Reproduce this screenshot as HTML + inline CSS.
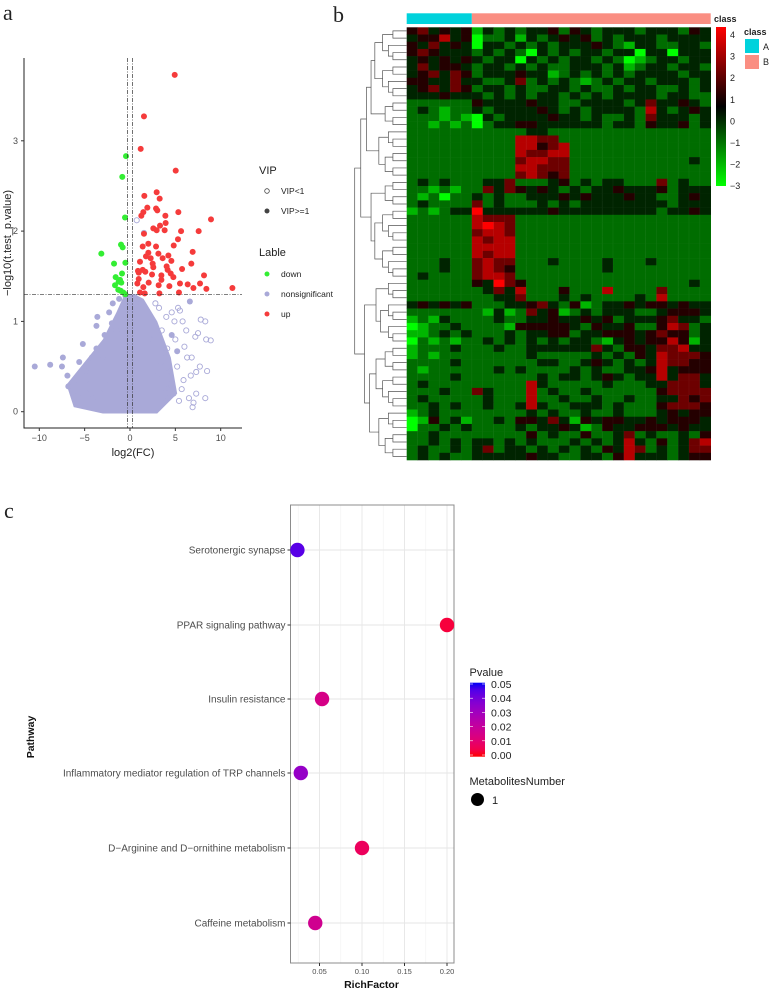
<!DOCTYPE html>
<html><head><meta charset="utf-8"><style>
body{margin:0;background:#fff}
svg{display:block;font-family:"Liberation Sans",sans-serif}
</style></head><body>
<svg id="fig" width="770" height="991" viewBox="0 0 770 991">
<rect width="770" height="991" fill="#fff"/>
<g id="volcano"></g>
<g id="heatmap"></g>
<g id="bubble"></g>
</svg>
<script>
// ---------- Volcano data ----------
const upX=[4.93,1.54,1.18,5.04,1.58,2.94,3.27,1.91,2.87,1.47,3.01,1.25,3.90,5.33,7.57,8.93,5.63,3.31,2.57,3.93,2.94,1.54,3.82,5.29,4.82,6.91,6.76,2.02,2.87,1.40,3.13,2.02,1.10,2.28,3.60,4.56,2.50,4.15,5.74,8.16,7.72,8.42,6.99,6.36,5.51,11.29,3.46,2.43,1.69,0.96,0.96,1.47,1.10,1.62,3.24,5.40,4.49,3.46,4.78,0.88,0.81,2.06,3.16,4.34,1.40,2.57,4.23,1.76,4.04];
const upY=[3.73,3.27,2.91,2.67,2.39,2.43,2.36,2.26,2.25,2.21,2.23,2.17,2.17,2.21,2.0,2.13,2.0,2.06,2.03,2.09,2.01,1.97,2.01,1.91,1.84,1.77,1.64,1.86,1.83,1.83,1.75,1.76,1.66,1.70,1.70,1.67,1.64,1.57,1.58,1.51,1.42,1.36,1.37,1.41,1.42,1.37,1.51,1.52,1.55,1.54,1.47,1.38,1.32,1.31,1.31,1.32,1.53,1.46,1.49,1.56,1.42,1.43,1.40,1.39,1.57,1.60,1.73,1.72,1.61];
const downX=[-0.44,-0.85,-0.55,-3.16,-0.99,-0.81,-1.76,-0.51,-0.88,-1.58,-1.10,-1.25,-0.96,-1.65,-1.29,-1.03,-0.74,-0.51];
const downY=[2.83,2.60,2.15,1.75,1.85,1.82,1.64,1.65,1.53,1.49,1.46,1.44,1.43,1.40,1.35,1.34,1.32,1.30];
const nsFillX=[-10.5,-8.8,-7.4,-7.5,-6.9,-6.1,-5.8,-5.6,-4.9,-4.2,-3.7,-3.7,-2.8,-4.5,-2.3,-1.9,-3.2,-2.2,6.6,5.2,4.6,-6.8,-4.1,-1.2,-0.5,0.5,1.2,-2.6,-1.5,-3.6,-5.2,-2.0,-3.0,-4.8];
const nsFillY=[0.5,0.52,0.6,0.5,0.4,0.35,0.18,0.55,0.45,0.6,0.7,0.95,0.85,0.3,1.1,1.2,0.2,0.3,1.22,0.67,0.85,0.28,0.15,1.25,1.28,1.27,1.2,0.55,0.9,1.05,0.75,0.98,0.62,0.2];
const nsHollowX=[8.3,7.8,5.8,5.3,5.5,7.2,8.4,8.9,7.5,6.0,5.0,6.3,7.7,8.5,7.3,6.7,5.7,6.5,7.3,8.3,5.4,6.9,7.0,4.2,4.8,3.5,4.0,3.7,4.4,3.2,2.8,0.74,1.54,4.5,5.2,3.0,2.5,3.9,6.2,4.9,4.1,3.4,5.9,6.8,4.6,3.6];
const nsHollowY=[1.0,1.02,1.0,1.15,1.12,0.83,0.8,0.79,0.87,0.72,0.8,0.6,0.5,0.45,0.44,0.4,0.25,0.15,0.2,0.15,0.12,0.05,0.1,0.15,0.2,0.9,1.05,0.65,0.45,1.15,1.2,2.12,1.98,0.3,0.5,0.4,0.8,0.25,0.9,1.0,0.7,0.55,0.35,0.6,1.1,0.1];
const cloudX=[-0.6,-1.5,-3,-5,-7,-6.2,-3,3,5.2,4.5,3,1.5,0.5];
const cloudY=[1.3,1.1,0.8,0.55,0.3,0.05,-0.02,-0.02,0.2,0.6,1.0,1.25,1.3];
const vXTicks=[-10,-5,0,5,10];
const vYTicks=[0,1,2,3];

// ---------- Heatmap data (digit d -> value d-3) ----------
const heatRows=[
"4534341323233424323332333243","3446340223132343423233323333","4353430332323233343213322332","4543332323203232332330330333",
"3434343233032323323201233233","3534432332323223332312332332","3453542333433123232323333233","4433533223523232123233233323",
"3453542332322332322323322323","3334333232323323232333323322","2222224333343322333323533432","2321223233334323233332632343",
"2221210323333433232232533323","2212120233443333332332433423","2222222222233222222222222222","2222222222665522222222222222",
"2222222222664562222222222222","2222222222655662222222222222","2222222222566552222222222232","2222222222665552222222222222",
"2222222222565452222222222222","2323222335222342323322252322","2212122535434323233433342333","2120223232233343433343322343",
"2322225232223232333333332333","1212337333333433333333323343","2222226555222222222222222222","2222226765222222222222222222",
"2222225665222222222222222222","2222226566222222222222222222","2222226666222222222222222222","2222226566222222222222222222",
"2223225655222322223222322222","2223225654222222223222222222","2322225665222222222222222222","2222224375422222222222222232",
"2222222353622242226222252222","2222222233522232322223262222","3434342223345324123343443433","2222222131253412323332234443",
"1213222232233433434233345332","0122322221444443243342246523","1123232223233442334443454423","0212122323232323321343446413",
"1222322232233333353244355633","1212222222232222232324365554","2222322222223322343232365544","2122222232322223232233463444",
"2222322222223233234323363553","2322222222263222223222335553","2223225322262322322222245555","2322222322262232232232233545",
"2232322322363223332322245554","1232222222232322322322234344","0142312232443531434433434443","0223232222323343124334443433",
"2232222222242322422352322324","2232323323232223232363242356","2322323523323232324365232355","2323223333343322332463332344"];
const classA=6, nCols=28;
const cbTicks=[4,3,2,1,0,-1,-2,-3];

// ---------- Bubble data ----------
const pathways=["Serotonergic synapse","PPAR signaling pathway","Insulin resistance","Inflammatory mediator regulation of TRP channels","D\u2212Arginine and D\u2212ornithine metabolism","Caffeine metabolism"];
const richFactor=[0.024,0.2,0.053,0.028,0.1,0.045];
const pvals=[0.044,0.003,0.015,0.033,0.007,0.017];
const rfTicks=[0.05,0.10,0.15,0.20];
const pTicks=[0.05,0.04,0.03,0.02,0.01,0.00];

const NS="http://www.w3.org/2000/svg";
function el(tag,attrs,parent,text){const e=document.createElementNS(NS,tag);for(const k in attrs)e.setAttribute(k,attrs[k]);if(text!==undefined)e.textContent=text;parent.appendChild(e);return e;}

// ================= VOLCANO =================
(function(){
const g=document.getElementById('volcano');
const vx=v=>130+v*9.07, vy=v=>411.7-v*90.3;
let t=el('text',{x:3,y:20,'font-family':'Liberation Serif',"font-size":22,fill:'#222'},g,'a');


let pts=cloudX.map((x,i)=>vx(x)+','+vy(cloudY[i])).join(' ');
let c=el('polygon',{points:pts,fill:'#a9a9d8'},g);


nsFillX.forEach((x,i)=>{const p=el('circle',{cx:vx(x),cy:vy(nsFillY[i]),r:3,fill:'#a9a9d8'},g);

});
nsHollowX.forEach((x,i)=>{const p=el('circle',{cx:vx(x),cy:vy(nsHollowY[i]),r:2.6,fill:'none',stroke:'#a9a9d8','stroke-width':0.9},g);

});
downX.forEach((x,i)=>{const p=el('circle',{cx:vx(x),cy:vy(downY[i]),r:3,fill:'#33ee33'},g);

});
upX.forEach((x,i)=>{const p=el('circle',{cx:vx(x),cy:vy(upY[i]),r:3,fill:'#f53b3b'},g);

});
[-0.26,0.26].forEach(v=>{const l=el('line',{x1:vx(v),x2:vx(v),y1:58,y2:428,stroke:'#333','stroke-width':0.7,'stroke-dasharray':'4,1.5,1,1.5'},g);

});
let h=el('line',{x1:24,x2:242,y1:vy(1.3),y2:vy(1.3),stroke:'#333','stroke-width':0.7,'stroke-dasharray':'4,1.5,1,1.5'},g);


let ax=el('path',{d:'M24 58 V428 H242',fill:'none',stroke:'#222','stroke-width':1},g);


vXTicks.forEach(v=>{el('line',{x1:vx(v),x2:vx(v),y1:428,y2:431,stroke:'#333'},g);
const tt=el('text',{x:vx(v),y:441,'text-anchor':'middle','font-size':9,fill:'#4d4d4d'},g,v<0?'\u2212'+(-v):String(v));

});
vYTicks.forEach(v=>{el('line',{x1:21,x2:24,y1:vy(v),y2:vy(v),stroke:'#333'},g);
const tt=el('text',{x:18,y:vy(v)+3,'text-anchor':'end','font-size':9,fill:'#4d4d4d'},g,String(v));

});
t=el('text',{x:133,y:456,'text-anchor':'middle','font-size':11,fill:'#222'},g,'log2(FC)');


t=el('text',{x:0,y:0,transform:'translate(11,243) rotate(-90)','text-anchor':'middle','font-size':11,fill:'#222'},g,'\u2212log10(t.test_p.value)');


t=el('text',{x:259,y:174,'font-size':11,fill:'#222'},g,'VIP');


el('circle',{cx:267,cy:191,r:2.3,fill:'none',stroke:'#444','stroke-width':0.8},g);
t=el('text',{x:281,y:194,'font-size':8.5,fill:'#222'},g,'VIP<1');


el('circle',{cx:267,cy:211,r:2.5,fill:'#444'},g);
t=el('text',{x:281,y:214,'font-size':8.5,fill:'#222'},g,'VIP>=1');


t=el('text',{x:259,y:256,'font-size':11,fill:'#222'},g,'Lable');


[['down','#33ee33',274],['nonsignificant','#a9a9d8',294],['up','#f53b3b',314]].forEach(a=>{
el('circle',{cx:267,cy:a[2],r:2.5,fill:a[1]},g);
const tt=el('text',{x:281,y:a[2]+3,'font-size':8.5,fill:'#222'},g,a[0]);

});
})();

// ================= HEATMAP =================
(function(){
const g=document.getElementById('heatmap');
const X0=406.7,X1=710.7,Y0=27.3,Y1=460;
const cw=(X1-X0)/nCols, rh=(Y1-Y0)/heatRows.length;
let t=el('text',{x:333,y:22,'font-family':'Liberation Serif',"font-size":22,fill:'#222'},g,'b');


function col(v){if(v<0.5){const f=(v+3)/3.5;return 'rgb(0,'+Math.round(255*(1-f))+',0)';}const f=Math.min(1,(v-0.5)/3.5);return 'rgb('+Math.round(255*f)+',0,0)';}
let r=el('rect',{x:X0,y:13.3,width:cw*classA,height:10.7,fill:'#00d2dc'},g);


r=el('rect',{x:X0+cw*classA,y:13.3,width:cw*(nCols-classA),height:10.7,fill:'#fa8e82'},g);


heatRows.forEach((row,i)=>{for(let j=0;j<nCols;j++){const d=row.charCodeAt(j)-48;const v=(isNaN(d)?2:d)-3;
const c=el('rect',{x:X0+j*cw,y:Y0+i*rh,width:cw+0.3,height:rh+0.3,fill:col(v)},g);

}});
for(let j=1;j<nCols;j++)el('line',{x1:X0+j*cw,x2:X0+j*cw,y1:Y0,y2:Y1,stroke:'rgba(255,255,255,0.08)','stroke-width':0.5},g);
const dg=el('g',{stroke:'#555','stroke-width':0.7,fill:'none'},g);


const bounds=[0,10,14,21,25,35,38,44,53,60];
function build(lo,hi){ if(hi-lo===1)return{y:Y0+(lo+0.5)*rh,x:X0,size:1};
let mid=Math.floor((lo+hi)/2);
const inner=bounds.filter(b=>b>lo&&b<hi);
if(inner.length)mid=inner[Math.floor(inner.length/2)];
const a=build(lo,mid),b=build(mid,hi);const n=hi-lo;
const x=X0-6-46*Math.log(n)/Math.log(60);
el('path',{d:`M${a.x} ${a.y}H${x}V${b.y}H${b.x}`},dg);
return{y:(a.y+b.y)/2,x:x,size:n};}
build(0,heatRows.length);
t=el('text',{x:714,y:22,'font-size':9,'font-weight':'bold',fill:'#222'},g,'class');


const defs=el('defs',{},g);const lg=el('linearGradient',{id:'hg',x1:0,y1:0,x2:0,y2:1},defs);
for(let k=0;k<=14;k++){const v=4-k*0.5;el('stop',{offset:(k/14),'stop-color':col(v)},lg);}
r=el('rect',{x:716,y:27,width:10,height:159,fill:'url(#hg)'},g);


cbTicks.forEach(v=>{const y=35+(4-v)*21.6;
const tt=el('text',{x:730,y:y+3,'font-size':9,fill:'#222'},g,v<0?'\u2212'+(-v):String(v));

});
t=el('text',{x:744,y:35,'font-size':9,'font-weight':'bold',fill:'#222'},g,'class');


el('rect',{x:745,y:39,width:14,height:14,fill:'#00d2dc'},g);
el('rect',{x:745,y:55,width:14,height:14,fill:'#fa8e82'},g);
t=el('text',{x:763,y:50,'font-size':9,fill:'#222'},g,'A');


t=el('text',{x:763,y:65,'font-size':9,fill:'#222'},g,'B');


})();

// ================= BUBBLE =================
(function(){
const g=document.getElementById('bubble');
const PX0=290.5,PX1=454,PY0=505,PY1=963;
const bx=v=>277+v*850;
const rowY=[550,625,699,773,848,923];
let t=el('text',{x:4,y:518,'font-family':'Liberation Serif',"font-size":22,fill:'#222'},g,'c');


el('rect',{x:PX0,y:PY0,width:PX1-PX0,height:PY1-PY0,fill:'#fff'},g);
[0.025,0.075,0.125,0.175].forEach(v=>el('line',{x1:bx(v),x2:bx(v),y1:PY0,y2:PY1,stroke:'#f2f2f2','stroke-width':0.6},g));
rfTicks.forEach(v=>el('line',{x1:bx(v),x2:bx(v),y1:PY0,y2:PY1,stroke:'#e6e6e6','stroke-width':0.9},g));
rowY.forEach(y=>el('line',{x1:PX0,x2:PX1,y1:y,y2:y,stroke:'#e6e6e6','stroke-width':0.9},g));
let b=el('rect',{x:PX0,y:PY0,width:PX1-PX0,height:PY1-PY0,fill:'none',stroke:'#8c8c8c','stroke-width':1},g);


function pcol(p){const f=Math.max(0,Math.min(1,p/0.05));return 'rgb('+Math.round(255*Math.sqrt(1-f))+',0,'+Math.round(245*Math.sqrt(f))+')';}
pathways.forEach((name,i)=>{
el('line',{x1:PX0-3,x2:PX0,y1:rowY[i],y2:rowY[i],stroke:'#333'},g);
const tt=el('text',{x:PX0-5,y:rowY[i]+3.5,'text-anchor':'end','font-size':10,fill:'#4d4d4d'},g,name);


const c=el('circle',{cx:bx(richFactor[i]),cy:rowY[i],r:7.2,fill:pcol(pvals[i])},g);

});
rfTicks.forEach(v=>{el('line',{x1:bx(v),x2:bx(v),y1:PY1,y2:PY1+3,stroke:'#333'},g);
const tt=el('text',{x:bx(v),y:PY1+11,'text-anchor':'middle','font-size':7.5,fill:'#4d4d4d'},g,v.toFixed(2));

});
t=el('text',{x:371.5,y:988,'text-anchor':'middle','font-size':10.5,'font-weight':'bold',fill:'#111'},g,'RichFactor');


t=el('text',{x:0,y:0,transform:'translate(34,737) rotate(-90)','text-anchor':'middle','font-size':10.5,'font-weight':'bold',fill:'#111'},g,'Pathway');


t=el('text',{x:469.5,y:676,'font-size':11,fill:'#222'},g,'Pvalue');


const defs=el('defs',{},g);const lg=el('linearGradient',{id:'pg',x1:0,y1:0,x2:0,y2:1},defs);
for(let k=0;k<=10;k++){el('stop',{offset:k/10,'stop-color':pcol(0.05*(1-k/10))},lg);}
let r=el('rect',{x:470,y:682.7,width:15,height:74,fill:'url(#pg)'},g);


pTicks.forEach(v=>{const y=684+(0.05-v)/0.05*71;
el('line',{x1:470,x2:473,y1:y,y2:y,stroke:'#fff','stroke-width':0.6},g);
el('line',{x1:482,x2:485,y1:y,y2:y,stroke:'#fff','stroke-width':0.6},g);
const tt=el('text',{x:491,y:y+4,'font-size':10.5,fill:'#222'},g,v.toFixed(2));

});
t=el('text',{x:469.5,y:785,'font-size':11,fill:'#222'},g,'MetabolitesNumber');


el('circle',{cx:477.5,cy:799.5,r:6.5,fill:'#000'},g);
t=el('text',{x:492,y:804,'font-size':11,fill:'#222'},g,'1');


})();
</script>
</body></html>
